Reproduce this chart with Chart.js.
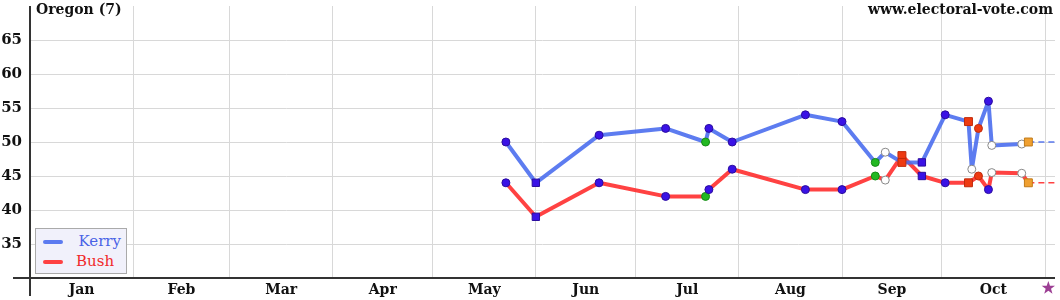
<!DOCTYPE html>
<html>
<head>
<meta charset="utf-8">
<script src="https://cdn.jsdelivr.net/npm/chart.js@4/dist/chart.umd.min.js"></script>
<style>
  body { margin: 0; background: #fff; }
  #wrap { position: relative; width: 1060px; height: 300px; }
  canvas { display: block; }
  #title { position: absolute; left: 36px; top: 1px; font: bold 14px "DejaVu Serif"; color: #111; }
  #site { position: absolute; right: 7px; top: 1px; font: bold 14px "DejaVu Serif"; color: #111; }
  #legend { position: absolute; left: 35px; top: 228px; width: 90px; height: 44px; background: #f1f1fb;
            border: 1px solid #aaa; font: 15px "DejaVu Serif"; }
  #legend div { position: absolute; left: 0; width: 88px; height: 20px; }
  #legend span.sw { position: absolute; left: 7px; top: 8px; width: 20px; height: 4px; border-radius: 2px; }
  #legend span.tx { position: absolute; right: 3px; top: 0; }
</style>
</head>
<body>
<div id="wrap">
  <canvas id="c" width="1060" height="300"></canvas>
  <div id="title">Oregon (7)</div>
  <div id="site">www.electoral-vote.com</div>
  <div id="legend"></div>
</div>
<script>
// month grid (day of year 2004, Jan 1 = 0)
const monthStarts = [0, 31, 60, 91, 121, 152, 182, 213, 244, 274, 305];
const monthNames = ['Jan', 'Feb', 'Mar', 'Apr', 'May', 'Jun', 'Jul', 'Aug', 'Sep', 'Oct'];
const yTicks = [35, 40, 45, 50, 55, 60, 65];
const electionDay = 306;
const lastDay = 308;

// polls
const kerryDays = [143, 152, 171, 191, 203, 204, 211, 233, 244, 254, 257, 262, 268, 275, 282, 283, 285, 288, 289, 298, 300];
const kerryVals = [50, 44, 51, 52, 50, 52, 50, 54, 53, 47, 48.5, 47, 47, 54, 53, 46, 52, 56, 49.5, 49.7, 50];
const kerryMarks = ['dot', 'bsq', 'dot', 'dot', 'grn', 'dot', 'dot', 'dot', 'dot', 'grn', 'open', 'rsq', 'bsq', 'dot', 'rsq', 'open', 'rdot', 'dot', 'open', 'open', 'osq'];

const bushDays = [143, 152, 171, 191, 203, 204, 211, 233, 244, 254, 257, 262, 268, 275, 282, 285, 288, 289, 298, 300];
const bushVals = [44, 39, 44, 42, 42, 43, 46, 43, 43, 45, 44.4, 48, 45, 44, 44, 45, 43, 45.5, 45.4, 44];
const bushMarks = ['dot', 'bsq', 'dot', 'dot', 'grn', 'dot', 'dot', 'dot', 'dot', 'grn', 'open', 'rsq', 'bsq', 'dot', 'rsq', 'rdot', 'dot', 'open', 'open', 'osq'];

const seriesNames = ['Kerry', 'Bush'];
const lineColors = ['rgba(75,110,238,0.9)', 'rgba(255,45,45,0.9)'];
const textColors = ['#4a63e6', '#f02a2a'];

const markStyle = {
  dot:  { s: 'circle', r: 4,   bg: '#3a12e6', bd: '#2a0c9e' },
  grn:  { s: 'circle', r: 4,   bg: '#22b822', bd: '#168a16' },
  open: { s: 'circle', r: 4,   bg: '#ffffff', bd: '#888888' },
  rdot: { s: 'circle', r: 4,   bg: '#ee3a12', bd: '#c02a0a' },
  bsq:  { s: 'rect',   r: 5.2, bg: '#3a12e6', bd: '#2a0c9e' },
  rsq:  { s: 'rect',   r: 5.6, bg: '#ee3a12', bd: '#c02a0a' },
  osq:  { s: 'rect',   r: 5.6, bg: '#f0a030', bd: '#c07a18' }
};

function pollSet(name, days, vals, marks, color) {
  return {
    label: name,
    data: days.map((d, i) => ({ x: d, y: vals[i] })),
    borderColor: color,
    borderWidth: 4,
    borderJoinStyle: 'round',
    borderCapStyle: 'round',
    tension: 0,
    pointStyle: marks.map(m => markStyle[m].s),
    pointRadius: marks.map(m => markStyle[m].r),
    pointBackgroundColor: marks.map(m => markStyle[m].bg),
    pointBorderColor: marks.map(m => markStyle[m].bd),
    pointBorderWidth: 1,
    order: 1
  };
}

function tailSet(days, vals, color) {
  const n = days.length - 1;
  return {
    label: '',
    data: [{ x: days[n], y: vals[n] }, { x: lastDay, y: vals[n] }],
    borderColor: color,
    borderWidth: 1.5,
    borderDash: [6, 4],
    pointRadius: 0,
    order: 2
  };
}

// legend
const leg = document.getElementById('legend');
seriesNames.forEach((n, i) => {
  const row = document.createElement('div');
  row.style.top = (3 + i * 20) + 'px';
  row.innerHTML = '<span class="sw" style="background:' + lineColors[i] + '"></span>' +
    '<span class="tx" style="color:' + textColors[i] + ';' + (i ? 'right:auto;left:40px' : '') + '">' + n + '</span>';
  leg.appendChild(row);
});

const mids = monthStarts.slice(0, -1).map((s, i) => (s + monthStarts[i + 1]) / 2);

const axesPlugin = {
  id: 'axesLines',
  afterDraw(chart) {
    const { ctx, chartArea: a } = chart;
    ctx.save();
    ctx.strokeStyle = '#333';
    ctx.lineWidth = 2;
    ctx.beginPath();
    ctx.moveTo(a.left, a.top);
    ctx.lineTo(a.left, a.bottom + 18);
    ctx.moveTo(a.left - 17, a.bottom);
    ctx.lineTo(a.right, a.bottom);
    ctx.stroke();
    // election day star
    const sx = chart.scales.x.getPixelForValue(electionDay);
    const sy = a.bottom + 10;
    ctx.fillStyle = '#9c3f94';
    ctx.beginPath();
    for (let k = 0; k < 10; k++) {
      const r = k % 2 ? 2.8 : 7;
      const ang = -Math.PI / 2 + k * Math.PI / 5;
      ctx.lineTo(sx + r * Math.cos(ang), sy + r * Math.sin(ang));
    }
    ctx.closePath();
    ctx.fill();
    ctx.restore();
  }
};

new Chart(document.getElementById('c'), {
  type: 'line',
  data: {
    datasets: [
      pollSet(seriesNames[0], kerryDays, kerryVals, kerryMarks, lineColors[0]),
      pollSet(seriesNames[1], bushDays, bushVals, bushMarks, lineColors[1]),
      tailSet(kerryDays, kerryVals, lineColors[0]),
      tailSet(bushDays, bushVals, lineColors[1])
    ]
  },
  options: {
    responsive: false,
    animation: false,
    layout: { autoPadding: false, padding: { top: 6, right: 5, left: 0, bottom: 0 } },
    plugins: { legend: { display: false }, tooltip: { enabled: false } },
    scales: {
      x: {
        type: 'linear',
        min: 0,
        max: lastDay,
        afterBuildTicks: s => { s.ticks = monthStarts.concat(mids).sort((a, b) => a - b).map(v => ({ value: v })); },
        afterFit: s => { s.height = 22; s.paddingLeft = 0; s.paddingRight = 0; },
        border: { display: false },
        grid: {
          drawTicks: false,
          color: c => (c.tick && monthStarts.includes(c.tick.value) && c.tick.value > 0) ? '#d8d8d8' : 'rgba(0,0,0,0)'
        },
        ticks: {
          autoSkip: false,
          maxRotation: 0,
          padding: 4,
          color: '#111',
          font: { family: 'DejaVu Serif', size: 14, weight: 'bold' },
          callback: v => { const i = mids.indexOf(v); return i >= 0 ? monthNames[i] : ''; }
        }
      },
      y: {
        min: 30,
        max: 70,
        afterBuildTicks: s => { s.ticks = yTicks.map(v => ({ value: v })); },
        afterFit: s => { s.width = 30; s.paddingTop = 0; s.paddingBottom = 0; },
        border: { display: false },
        grid: { drawTicks: false, color: '#d8d8d8' },
        ticks: {
          padding: 8,
          color: '#111',
          font: { family: 'DejaVu Serif', size: 15, weight: 'bold' }
        }
      }
    }
  },
  plugins: [axesPlugin]
});
</script>
</body>
</html>
